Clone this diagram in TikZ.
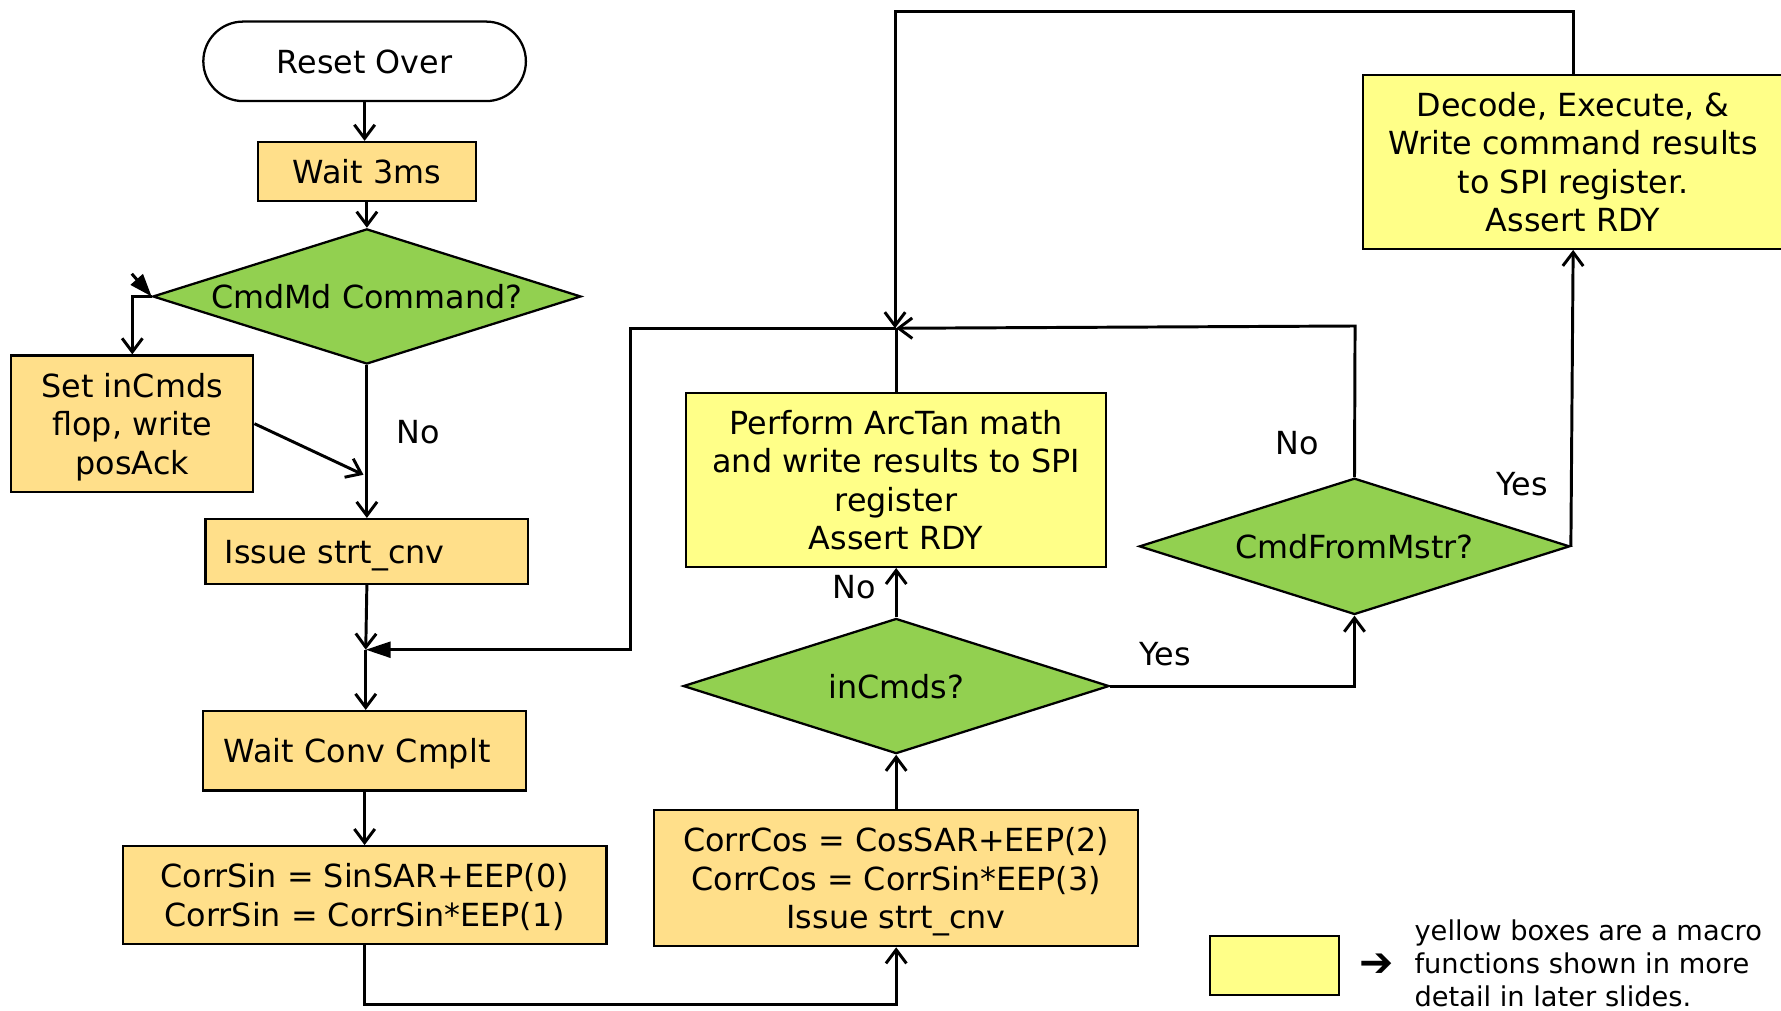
\documentclass[tikz,border=0pt]{standalone}
\usepackage{fontspec}
\setmainfont{DejaVu Sans}
\usetikzlibrary{arrows.meta,shapes.geometric}
\definecolor{procfill}{HTML}{FFDF8A}
\definecolor{macrofill}{HTML}{FFFF88}
\definecolor{decfill}{HTML}{92D050}
\tikzset{
  base/.style={draw=black, line width=1pt, inner sep=0pt, font=\fontsize{14}{17}\selectfont, align=center, text depth=0pt},
  proc/.style={base, rectangle, fill=procfill},
  macro/.style={base, rectangle, fill=macrofill},
  decision/.style={base, diamond, fill=decfill, aspect=3.15},
  terminal/.style={base, rectangle, rounded corners=17.5pt, fill=white},
  flow/.style={line width=1.3pt, -{Straight Barb[length=6pt,width=9pt,line width=1.3pt]}},
  link/.style={line width=1.3pt},
  merge/.style={line width=1.3pt, -{Triangle[length=11pt,width=7pt]}},
  lbl/.style={font=\fontsize{14}{17}\selectfont, inner sep=0pt},
}
\begin{document}
\begin{tikzpicture}[x=0.5pt,y=-0.5pt]
\clip (0,0) rectangle (1568,890);

% ---- left column ----
\node[terminal, minimum width=142pt, minimum height=35pt] (reset) at (321,54) {Reset Over};
\node[proc, minimum width=96pt, minimum height=26pt] (wait3) at (323,151) {Wait 3ms};
\node[decision, minimum width=188.5pt, minimum height=59.5pt] (cmdmd) at (323,261) {CmdMd Command?};
\node[proc, minimum width=106.5pt, minimum height=60pt] (setinc) at (116.5,373) {Set inCmds\\flop, write\\posAck};
\node[proc, minimum width=142pt, minimum height=28.5pt, text width=125pt, align=left] (issue) at (323,485.5) {Issue strt\_cnv};
\node[proc, minimum width=142pt, minimum height=35pt, text width=124pt, align=left] (waitconv) at (321,661) {Wait Conv Cmplt};
\node[proc, minimum width=213pt, minimum height=43pt] (corrsin) at (321,788) {CorrSin = SinSAR+EEP(0)\\CorrSin = CorrSin*EEP(1)};

% ---- middle column ----
\node[proc, minimum width=213pt, minimum height=60pt] (corrcos) at (789,773) {CorrCos = CosSAR+EEP(2)\\CorrCos = CorrSin*EEP(3)\\Issue strt\_cnv};
\node[decision, minimum width=187.5pt, minimum height=59.5pt] (incmds) at (789,604) {inCmds?};
\node[macro, minimum width=185pt, minimum height=76.5pt] (arctan) at (789,422.5) {Perform ArcTan math\\and write results to SPI\\register\\Assert RDY};

% ---- right column ----
\node[decision, minimum width=189.5pt, minimum height=60pt] (cmdfrom) at (1192.5,481) {CmdFromMstr?};
\node[macro, minimum width=185pt, minimum height=76.5pt] (decode) at (1385,142.5) {Decode, Execute, \&\\Write command results\\to SPI register.\\Assert RDY};

% ---- routing points ----
\coordinate (ct) at (116,241);
\coordinate (m1) at (320,418);
\coordinate (mg) at (322,572);
\coordinate (lp) at (555,572);
\coordinate (jn) at (789,289);
\coordinate (tp) at (788,10);
\coordinate (rt) at (1193,287);
\coordinate (bot) at (321,884);

% ---- connectors ----
\draw[flow] (reset.south) -- (reset.south |- wait3.north);
\draw[flow] (wait3.south) -- (cmdmd.north);
\draw[flow] (cmdmd.west) -| (setinc.north);
\draw[line width=1.3pt, -{Triangle[length=10pt,width=7pt]}] (ct) -- (cmdmd.west);
\draw[flow] (setinc.east) -- (m1);
\draw[flow] (cmdmd.south) -- (issue.north);
\draw[flow] (issue.south) -- (mg);
\draw[flow] (mg) -- (mg |- waitconv.north);
\draw[flow] (waitconv.south) -- (waitconv.south |- corrsin.north);
\draw[flow] (corrsin.south) -- (bot) -| (corrcos.south);
\draw[flow] (corrcos.north) -- (incmds.south);
\draw[flow] (incmds.north) -- (arctan.south);
\draw[flow] (incmds.east) -| (cmdfrom.south);
\draw[flow] (cmdfrom.north) -- (rt) -- (jn);
\draw[flow] (cmdfrom.east) -- (decode.south);
\draw[flow] (decode.north) |- (tp) -- (tp |- jn);
\draw[link] (arctan.north) -- (jn);
\draw[merge] (jn) -| (lp) -- (mg);

% ---- branch labels ----
\node[lbl] (noA) at (368,380) {No};
\node[lbl] (noB) at (752,517) {No};
\node[lbl] (yesA) at (1026,576) {Yes};
\node[lbl] (noC) at (1142,390) {No};
\node[lbl] (yesB) at (1340,426) {Yes};

% ---- key ----
\node[macro, minimum width=57pt, minimum height=26pt] (key) at (1122,850) {};
\node[font=\fontsize{18}{18}\selectfont, inner sep=0pt] (keyarrow) at (1212,850) {➔};
\node[font=\fontsize{12}{14.5}\selectfont, align=left, anchor=west, inner sep=0pt] (keytext) at (1245,848) {yellow boxes are a macro\\functions shown in more\\detail in later slides.};
\end{tikzpicture}
\end{document}
